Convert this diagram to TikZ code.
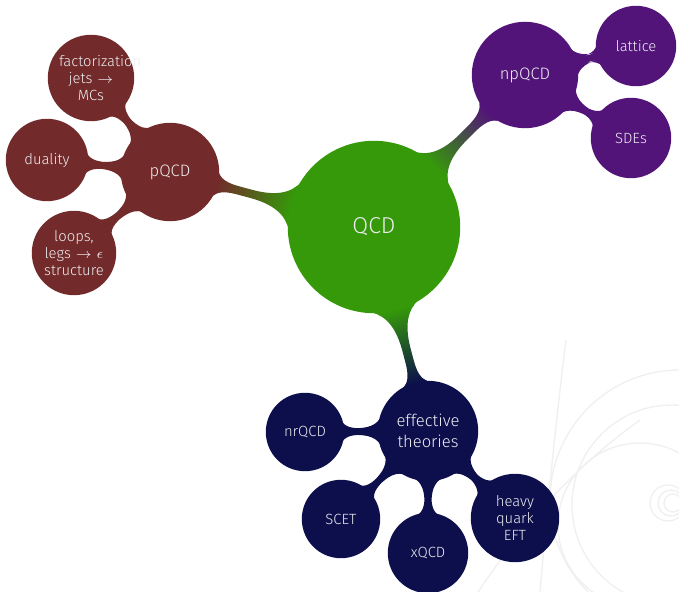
\documentclass[tikz,border=0pt]{standalone}
\usepackage{fontspec}
\setsansfont{Fira Sans Light}
\usetikzlibrary{mindmap}
\definecolor{cqcd}{HTML}{35990A}
\definecolor{cp}{HTML}{722A2A}
\definecolor{cnp}{HTML}{521479}
\definecolor{ceft}{HTML}{0C0F4B}
\definecolor{ctext}{HTML}{EDEDF0}
\definecolor{ctrack}{HTML}{F0F0F0}
\tikzset{
  rootc/.style={concept, minimum size=85pt, inner sep=0pt, text width=70pt, text=ctext, font=\sffamily\fontsize{11.5}{13}\selectfont},
  midc/.style={concept, inner sep=0pt, text width=40pt, text=ctext, font=\sffamily\fontsize{8.3}{10.5}\selectfont},
  leafc/.style={concept, inner sep=0pt, text width=32pt, text=ctext, font=\sffamily\fontsize{7.4}{8.7}\selectfont},
  track/.style={draw=ctrack, line width=0.7pt},
  barone/.style={line width=4pt},
  bartwo/.style={line width=3.5pt}
}
\begin{document}
\begin{tikzpicture}[mindmap, x=0.5pt, y=-0.5pt]
\useasboundingbox (0,0) rectangle (679,592);
% faint background tracks
\draw[track] (672,505) circle[radius=100];
\draw[track] (680,500) circle[radius=130];
\draw[track] (640,525) circle[radius=82];
\draw[track] (668,503) circle[radius=18];
\draw[track] (671,503) circle[radius=13];
\draw[track] (673,503) circle[radius=9];
\draw[track] (566,340) .. controls (556,420) and (548,500) .. (540,592);
\draw[track] (478,592) .. controls (520,530) and (570,470) .. (640,420);
% concepts
\node[rootc, concept color=cqcd] (qcd) at (374,227) {QCD};
\node[midc, concept color=cp, minimum size=48pt] (pqcd) at (170,172) {pQCD};
\node[leafc, concept color=cp, minimum size=42pt] (fact) at (91,78) {factorization jets $\rightarrow$ MCs};
\node[leafc, concept color=cp, minimum size=40pt] (dual) at (47,160) {duality};
\node[leafc, concept color=cp, minimum size=41pt] (loops) at (74,253) {loops, legs $\rightarrow\epsilon$ structure};
\node[midc, concept color=cnp, minimum size=52pt] (npqcd) at (525,75) {npQCD};
\node[leafc, concept color=cnp, minimum size=39pt] (lattice) at (636,46) {lattice};
\node[leafc, concept color=cnp, minimum size=39pt] (sdes) at (631,138) {SDEs};
\node[midc, concept color=ceft, minimum size=49pt] (eff) at (428,431) {effective theories};
\node[leafc, concept color=ceft, minimum size=38pt] (nrqcd) at (305,432) {nrQCD};
\node[leafc, concept color=ceft, minimum size=38pt] (scet) at (341,519) {SCET};
\node[leafc, concept color=ceft, minimum size=39pt] (xqcd) at (428,553) {xQCD};
\node[leafc, concept color=ceft, minimum size=43pt] (hq) at (515,518) {heavy quark EFT};
% connections
\path[barone] (qcd) to[circle connection bar switch color=from (cqcd) to (cp)] (pqcd);
\path[barone] (qcd) to[circle connection bar switch color=from (cqcd) to (cnp)] (npqcd);
\path[barone] (qcd) to[circle connection bar switch color=from (cqcd) to (ceft)] (eff);
\begin{scope}[concept color=cp]
\path[bartwo] (pqcd) to[circle connection bar] (fact);
\path[bartwo] (pqcd) to[circle connection bar] (dual);
\path[bartwo] (pqcd) to[circle connection bar] (loops);
\end{scope}
\begin{scope}[concept color=cnp]
\path[bartwo] (npqcd) to[circle connection bar] (lattice);
\path[bartwo] (npqcd) to[circle connection bar] (sdes);
\end{scope}
\begin{scope}[concept color=ceft]
\path[bartwo] (eff) to[circle connection bar] (nrqcd);
\path[bartwo] (eff) to[circle connection bar] (scet);
\path[bartwo] (eff) to[circle connection bar] (xqcd);
\path[bartwo] (eff) to[circle connection bar] (hq);
\end{scope}
\end{tikzpicture}
\end{document}
